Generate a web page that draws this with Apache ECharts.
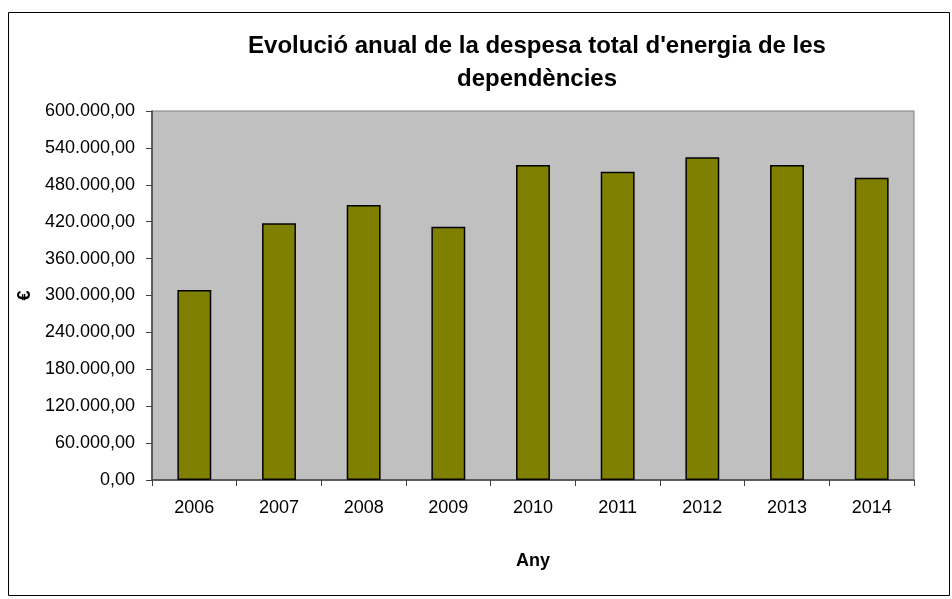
<!DOCTYPE html>
<html>
<head>
<meta charset="utf-8">
<script src="https://cdn.jsdelivr.net/npm/echarts@6/dist/echarts.min.js"></script>
<style>
html,body{margin:0;padding:0;background:#fff;}
#chart{width:952px;height:599px;}
</style>
</head>
<body>
<div id="chart"></div>
<script>
// Annual energy spending of municipal buildings (€)
const years = ['2006','2007','2008','2009','2010','2011','2012','2013','2014'];
const spending = [309000, 417400, 447200, 411900, 512200, 501300, 524700, 512200, 491500];
const yTicks = { min: 0, max: 600000, interval: 60000 };

// Catalan number format: thousands with '.', decimals with ','
function fmtCa(v) {
  const parts = v.toFixed(2).split('.');
  const intPart = parts[0].replace(/\B(?=(\d{3})+(?!\d))/g, '.');
  return intPart + ',' + parts[1];
}

const chart = echarts.init(document.getElementById('chart'), null, { renderer: 'canvas' });
const font = '"Liberation Sans", Arial, sans-serif';

chart.setOption({
  animation: false,
  textStyle: { fontFamily: font },
  title: {
    text: "Evolució anual de la despesa total d'energia de les\ndependències",
    left: 532,
    top: 25,
    textAlign: 'center',
    textStyle: { fontFamily: font, fontSize: 24, fontWeight: 'bold', color: '#000', lineHeight: 33 }
  },
  graphic: [{
    type: 'rect',
    shape: { x: 8.5, y: 12.5, width: 941, height: 583 },
    style: { fill: 'none', stroke: '#000', lineWidth: 1 },
    z: 100
  }],
  grid: {
    left: 152, top: 111, right: 38, bottom: 119,
    show: true, backgroundColor: '#c0c0c0', borderColor: '#808080', borderWidth: 1
  },
  xAxis: {
    type: 'category',
    data: years,
    name: 'Any',
    nameLocation: 'middle',
    nameGap: 72,
    nameTextStyle: { fontFamily: font, fontSize: 18, fontWeight: 'bold', color: '#000' },
    axisLine: { lineStyle: { color: '#404040', width: 1.5 } },
    axisTick: { show: true, length: 6, lineStyle: { color: '#404040' } },
    axisLabel: { fontFamily: font, fontSize: 18, color: '#000', margin: 19 },
    splitLine: { show: false }
  },
  yAxis: {
    type: 'value',
    min: yTicks.min, max: yTicks.max, interval: yTicks.interval,
    name: '€',
    nameLocation: 'middle',
    nameGap: 115,
    nameRotate: 90,
    nameTextStyle: { fontFamily: font, fontSize: 18, fontWeight: 'bold', color: '#000' },
    axisLine: { show: true, lineStyle: { color: '#404040', width: 1.5 } },
    axisTick: { show: true, length: 6, lineStyle: { color: '#404040' } },
    axisLabel: { fontFamily: font, fontSize: 18, color: '#000', margin: 17, formatter: fmtCa },
    splitLine: { show: false }
  },
  series: [{
    type: 'bar',
    data: spending,
    barWidth: '40%',
    itemStyle: { color: '#808000', borderColor: '#000', borderWidth: 1.5 }
  }]
});
</script>
</body>
</html>
